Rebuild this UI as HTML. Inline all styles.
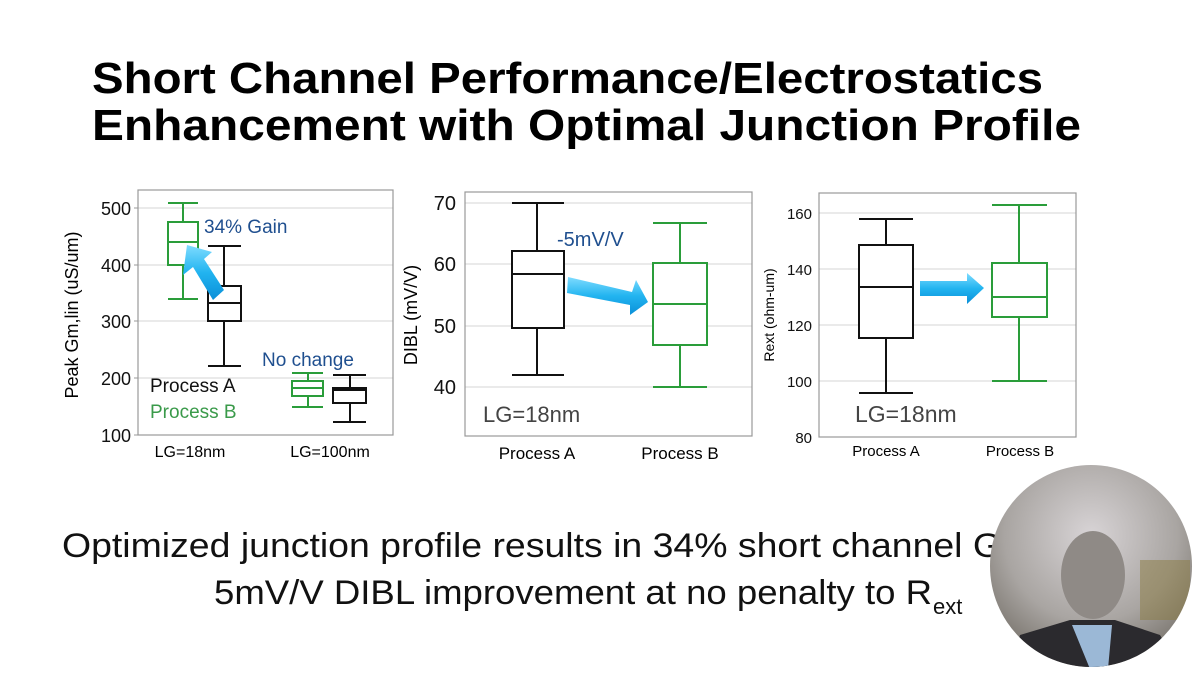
<!DOCTYPE html>
<html><head><meta charset="utf-8"><style>
html,body{margin:0;padding:0;background:#fff;}
svg{display:block;}
text{font-family:"Liberation Sans",sans-serif;}
</style></head><body>
<svg width="1200" height="675" viewBox="0 0 1200 675" xmlns="http://www.w3.org/2000/svg">
<defs>
<linearGradient id="ag" x1="0" y1="0" x2="0" y2="1">
<stop offset="0" stop-color="#7fdcff"/><stop offset="0.5" stop-color="#22b4f0"/><stop offset="1" stop-color="#0a8fd8"/>
</linearGradient>
<radialGradient id="bg" cx="0.5" cy="0.35" r="0.7">
<stop offset="0" stop-color="#d8d4d6"/><stop offset="0.6" stop-color="#a9a5a2"/><stop offset="1" stop-color="#6f6a62"/>
</radialGradient>
<clipPath id="cc"><circle cx="1091" cy="566" r="101"/></clipPath>
</defs>
<rect width="1200" height="675" fill="#fff"/>
<text x="92" y="93" font-size="44" font-weight="bold" textLength="951" lengthAdjust="spacingAndGlyphs">Short Channel Performance/Electrostatics</text>
<text x="92" y="140" font-size="44" font-weight="bold" textLength="989" lengthAdjust="spacingAndGlyphs">Enhancement with Optimal Junction Profile</text>

<!-- Chart 1 -->
<g stroke="#ddd" stroke-width="1.2">
<line x1="138" y1="208" x2="393" y2="208"/><line x1="138" y1="265" x2="393" y2="265"/><line x1="138" y1="321" x2="393" y2="321"/><line x1="138" y1="378" x2="393" y2="378"/>
</g>
<rect x="138" y="190" width="255" height="245" fill="none" stroke="#999" stroke-width="1.2"/>
<g stroke="#999"><line x1="134" y1="208" x2="138" y2="208"/><line x1="134" y1="265" x2="138" y2="265"/><line x1="134" y1="321" x2="138" y2="321"/><line x1="134" y1="378" x2="138" y2="378"/><line x1="134" y1="435" x2="138" y2="435"/></g>
<g font-size="18" text-anchor="end" fill="#111"><text x="131" y="215">500</text><text x="131" y="272">400</text><text x="131" y="328">300</text><text x="131" y="385">200</text><text x="131" y="442">100</text></g>
<text transform="translate(78,315) rotate(-90)" font-size="18" text-anchor="middle">Peak Gm,lin (uS/um)</text>
<g font-size="16" text-anchor="middle"><text x="190" y="457">LG=18nm</text><text x="330" y="457">LG=100nm</text></g>
<g fill="none" stroke="#2a9d3a" stroke-width="2">
<line x1="183" y1="203" x2="183" y2="299"/><line x1="168" y1="203" x2="198" y2="203"/><line x1="168" y1="299" x2="198" y2="299"/>
<rect x="168" y="222" width="30" height="43" fill="#fff"/><line x1="168" y1="242" x2="198" y2="242"/>
<line x1="308" y1="373" x2="308" y2="407"/><line x1="292" y1="373" x2="323" y2="373"/><line x1="292" y1="407" x2="323" y2="407"/>
<rect x="292" y="381" width="31" height="15" fill="#fff"/><line x1="292" y1="388" x2="323" y2="388"/>
</g>
<g fill="none" stroke="#111" stroke-width="2">
<line x1="224" y1="246" x2="224" y2="366"/><line x1="208" y1="246" x2="241" y2="246"/><line x1="208" y1="366" x2="241" y2="366"/>
<rect x="208" y="286" width="33" height="35" fill="#fff"/><line x1="208" y1="303" x2="241" y2="303"/>
<line x1="350" y1="375" x2="350" y2="422"/><line x1="333" y1="375" x2="366" y2="375"/><line x1="333" y1="422" x2="366" y2="422"/>
<rect x="333" y="388" width="33" height="15" fill="#fff"/><line x1="333" y1="390" x2="366" y2="390"/>
</g>
<polygon points="187,245 212,252 204,259 224,290 213,300 193,267 183,275" fill="url(#ag)"/>
<text x="204" y="233" font-size="19" fill="#1f4f8f">34% Gain</text>
<text x="262" y="366" font-size="19" fill="#1f4f8f">No change</text>
<text x="150" y="392" font-size="19" fill="#111">Process A</text>
<text x="150" y="418" font-size="19" fill="#3a9a4a">Process B</text>

<!-- Chart 2 -->
<g stroke="#ddd" stroke-width="1.2">
<line x1="465" y1="203" x2="752" y2="203"/><line x1="465" y1="264" x2="752" y2="264"/><line x1="465" y1="326" x2="752" y2="326"/><line x1="465" y1="387" x2="752" y2="387"/>
</g>
<rect x="465" y="192" width="287" height="244" fill="none" stroke="#999" stroke-width="1.2"/>
<g font-size="20" text-anchor="end" fill="#111"><text x="456" y="210">70</text><text x="456" y="271">60</text><text x="456" y="333">50</text><text x="456" y="394">40</text></g>
<text transform="translate(417,315) rotate(-90)" font-size="18" text-anchor="middle">DIBL (mV/V)</text>
<g font-size="17" text-anchor="middle"><text x="537" y="459">Process A</text><text x="680" y="459">Process B</text></g>
<g fill="none" stroke="#111" stroke-width="2">
<line x1="537" y1="203" x2="537" y2="375"/><line x1="512" y1="203" x2="564" y2="203"/><line x1="512" y1="375" x2="564" y2="375"/>
<rect x="512" y="251" width="52" height="77" fill="#fff"/><line x1="512" y1="274" x2="564" y2="274"/>
</g>
<g fill="none" stroke="#2a9d3a" stroke-width="2">
<line x1="680" y1="223" x2="680" y2="387"/><line x1="653" y1="223" x2="707" y2="223"/><line x1="653" y1="387" x2="707" y2="387"/>
<rect x="653" y="263" width="54" height="82" fill="#fff"/><line x1="653" y1="304" x2="707" y2="304"/>
</g>
<polygon points="568,277 632,292 636,280 648,302 630,315 630,305 567,293" fill="url(#ag)"/>
<text x="557" y="246" font-size="20" fill="#1f4f8f">-5mV/V</text>
<text x="483" y="422" font-size="22" fill="#444">LG=18nm</text>

<!-- Chart 3 -->
<g stroke="#ddd" stroke-width="1.2">
<line x1="819" y1="213" x2="1076" y2="213"/><line x1="819" y1="269" x2="1076" y2="269"/><line x1="819" y1="325" x2="1076" y2="325"/><line x1="819" y1="381" x2="1076" y2="381"/>
</g>
<rect x="819" y="193" width="257" height="244" fill="none" stroke="#999" stroke-width="1.2"/>
<g font-size="15" text-anchor="end" fill="#111"><text x="812" y="219">160</text><text x="812" y="275">140</text><text x="812" y="331">120</text><text x="812" y="387">100</text><text x="812" y="443">80</text></g>
<text transform="translate(774,315) rotate(-90)" font-size="14" text-anchor="middle">Rext (ohm-um)</text>
<g font-size="15" text-anchor="middle"><text x="886" y="456">Process A</text><text x="1020" y="456">Process B</text></g>
<g fill="none" stroke="#111" stroke-width="2">
<line x1="886" y1="219" x2="886" y2="393"/><line x1="859" y1="219" x2="913" y2="219"/><line x1="859" y1="393" x2="913" y2="393"/>
<rect x="859" y="245" width="54" height="93" fill="#fff"/><line x1="859" y1="287" x2="913" y2="287"/>
</g>
<g fill="none" stroke="#2a9d3a" stroke-width="2">
<line x1="1019" y1="205" x2="1019" y2="381"/><line x1="992" y1="205" x2="1047" y2="205"/><line x1="992" y1="381" x2="1047" y2="381"/>
<rect x="992" y="263" width="55" height="54" fill="#fff"/><line x1="992" y1="297" x2="1047" y2="297"/>
</g>
<polygon points="920,281 967,281 967,273 984,288 967,304 967,296 920,296" fill="url(#ag)"/>
<text x="855" y="422" font-size="23" fill="#444">LG=18nm</text>

<!-- Bottom text -->
<text x="62" y="557" font-size="34" fill="#111" textLength="940" lengthAdjust="spacingAndGlyphs">Optimized junction profile results in 34% short channel G</text>
<text x="214" y="604" font-size="34" fill="#111" textLength="718" lengthAdjust="spacingAndGlyphs">5mV/V DIBL improvement at no penalty to R</text>
<text x="933" y="614" font-size="22" fill="#111">ext</text>

<!-- webcam -->
<g clip-path="url(#cc)">
<rect x="988" y="463" width="206" height="206" fill="url(#bg)"/>
<rect x="1140" y="560" width="50" height="60" fill="#8a7a40" opacity="0.5"/>
<ellipse cx="1093" cy="575" rx="32" ry="44" fill="#8f8a86"/>
<path d="M1010,669 L1020,635 L1070,620 L1115,620 L1160,635 L1180,669 Z" fill="#2b2a2e"/>
<path d="M1072,625 L1090,669 L1108,669 L1112,625 Z" fill="#9bb8d6"/>
</g>
</svg>
</body></html>
